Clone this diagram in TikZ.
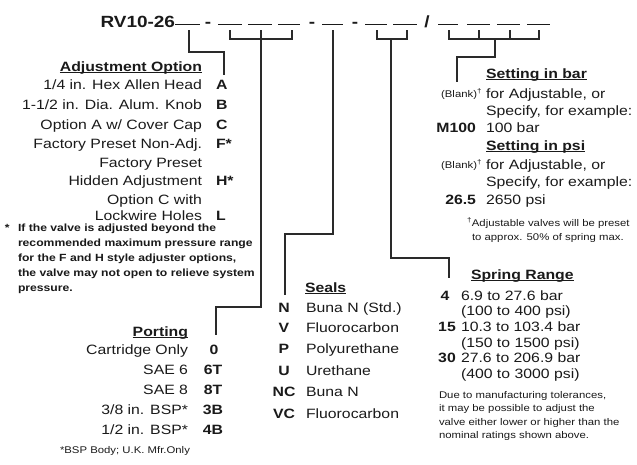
\documentclass[tikz,border=0pt]{standalone}
\usepackage{fontspec}
\setmainfont{Liberation Sans}[FakeStretch=1.17]
\definecolor{ink}{HTML}{1A1A1A}
\definecolor{wire}{HTML}{2A2A2A}
\newcommand\ulx[1]{\setbox0\hbox{#1}\rlap{\rule[-1.9pt]{\wd0}{0.95pt}}\box0}
\tikzset{
 txt/.style={inner sep=0pt, outer sep=0pt, text=ink, font=\fontsize{13.5}{16}\selectfont},
 code/.style={txt, font=\fontsize{13.5}{16}\selectfont\bfseries},
 head/.style={txt, font=\fontsize{13.5}{16}\selectfont\bfseries},
 titlef/.style={txt, font=\fontsize{16.2}{18}\selectfont\bfseries},
 small/.style={txt, font=\fontsize{9.7}{12}\selectfont},
 fnote/.style={txt, font=\fontsize{10.4}{12}\selectfont\bfseries},
 wirec/.style={draw=wire, line width=1.2pt, line join=miter},
 blank/.style={draw=ink, line width=1pt},
}
\begin{document}
\begin{tikzpicture}[x=1pt, y=-1pt]
\fill[white] (0,0) rectangle (637,464);
\useasboundingbox (0,0) rectangle (637,464);

% ---- model code line ----
\node[titlef, anchor=base east] (title) at (175,27) {RV10-26};
\node[titlef, anchor=base] (d1) at (208,27) {-};
\node[titlef, anchor=base] (d2) at (312,27) {-};
\node[titlef, anchor=base] (d3) at (355,27) {-};
\node[titlef, anchor=base] (sl) at (427,27) {/};
\draw[blank] (175,24) -- (200,24);
\draw[blank] (218,24) -- (242,24);
\draw[blank] (248,24) -- (272,24);
\draw[blank] (278,24) -- (300,24);
\draw[blank] (322,24) -- (343,24);
\draw[blank] (365,24) -- (387,24);
\draw[blank] (393,24) -- (417,24);
\draw[blank] (438,24) -- (458,24);
\draw[blank] (467,24) -- (490,24);
\draw[blank] (497,24) -- (520,24);
\draw[blank] (527,24) -- (550,24);

% ---- connector coordinates ----
\coordinate (a1) at (189,30);
\coordinate (adjEnd) at (224,75);
\coordinate (p1) at (230,30); \coordinate (p2) at (261,30); \coordinate (p3) at (292,30);
\coordinate (pm) at (261,39);
\coordinate (portEnd) at (216,335);
\coordinate (s1) at (333,30);
\coordinate (sealEnd) at (285,295);
\coordinate (r1) at (377,30); \coordinate (r2) at (407,30);
\coordinate (rm) at (391,39);
\coordinate (springEnd) at (449,278);
\coordinate (g1) at (449,30); \coordinate (g2) at (479,30);
\coordinate (g3) at (510,30); \coordinate (g4) at (539,30);
\coordinate (gm) at (495,39);
\coordinate (setEnd) at (457,82);

% adjustment
\draw[wirec] (a1) -- (189,52) -| (adjEnd);
% porting
\draw[wirec] (p1) |- (pm) -| (p3);
\draw[wirec] (p2) -- (pm) -- (261,307) -| (portEnd);
% seals
\draw[wirec] (s1) -- (333,234) -| (sealEnd);
% spring
\draw[wirec] (r1) |- (rm) -| (r2);
\draw[wirec] (rm) -- (391,258) -| (springEnd);
% setting
\draw[wirec] (g1) |- (gm) -| (g4);
\draw[wirec] (g2) -- (479,39);
\draw[wirec] (g3) -- (510,39);
\draw[wirec] (gm) -- (495,57) -| (setEnd);

% ---- Adjustment Option ----
\node[head, anchor=base east] (adjT) at (202,71) {\ulx{Adjustment Option}};
\node[txt, anchor=base east] (adj1) at (202,89) {1/4 in. Hex Allen Head};
\node[txt, anchor=base east] (adj2) at (202,109) {1-1/2 in. Dia. Alum. Knob};
\node[txt, anchor=base east] (adj3) at (202,129) {Option A w/ Cover Cap};
\node[txt, anchor=base east] (adj4) at (202,148) {Factory Preset Non-Adj.};
\node[txt, anchor=base east] (adj5a) at (202,167) {Factory Preset};
\node[txt, anchor=base east] (adj5b) at (202,185) {Hidden Adjustment};
\node[txt, anchor=base east] (adj6a) at (202,204) {Option C with};
\node[txt, anchor=base east] (adj6b) at (202,220) {Lockwire Holes};
\node[code, anchor=base west] (cA) at (216,89) {A};
\node[code, anchor=base west] (cB) at (216,109) {B};
\node[code, anchor=base west] (cC) at (216,129) {C};
\node[code, anchor=base west] (cF) at (216,148) {F*};
\node[code, anchor=base west] (cH) at (216,185) {H*};
\node[code, anchor=base west] (cL) at (216,220) {L};

\node[fnote, anchor=base west] (fnS) at (5,231) {*};
\node[fnote, anchor=base west] (fn1) at (18,231) {If the valve is adjusted beyond the};
\node[fnote, anchor=base west] (fn2) at (18,246) {recommended maximum pressure range};
\node[fnote, anchor=base west] (fn3) at (18,261) {for the F and H style adjuster options,};
\node[fnote, anchor=base west] (fn4) at (18,276) {the valve may not open to relieve system};
\node[fnote, anchor=base west] (fn5) at (18,291) {pressure.};

% ---- Porting ----
\node[head, anchor=base east] (portT) at (188,336) {\ulx{Porting}};
\node[txt, anchor=base east] (po1) at (188,354) {Cartridge Only};
\node[txt, anchor=base east] (po2) at (188,374) {SAE 6};
\node[txt, anchor=base east] (po3) at (188,394) {SAE 8};
\node[txt, anchor=base east] (po4) at (188,414) {3/8 in. BSP*};
\node[txt, anchor=base east] (po5) at (188,434) {1/2 in. BSP*};
\node[code, anchor=base] (pc1) at (214,354) {0};
\node[code, anchor=base] (pc2) at (213,374) {6T};
\node[code, anchor=base] (pc3) at (213,394) {8T};
\node[code, anchor=base] (pc4) at (213,414) {3B};
\node[code, anchor=base] (pc5) at (213,434) {4B};
\node[small, anchor=base west] (portN) at (60,453) {*BSP Body; U.K. Mfr.Only};

% ---- Seals ----
\node[head, anchor=base west] (sealT) at (305,292) {\ulx{Seals}};
\node[code, anchor=base] (sc1) at (284,312) {N};
\node[code, anchor=base] (sc2) at (284,332) {V};
\node[code, anchor=base] (sc3) at (284,353) {P};
\node[code, anchor=base] (sc4) at (284,375) {U};
\node[code, anchor=base] (sc5) at (284,396) {NC};
\node[code, anchor=base] (sc6) at (284,418) {VC};
\node[txt, anchor=base west] (sd1) at (306,312) {Buna N (Std.)};
\node[txt, anchor=base west] (sd2) at (306,332) {Fluorocarbon};
\node[txt, anchor=base west] (sd3) at (306,353) {Polyurethane};
\node[txt, anchor=base west] (sd4) at (306,375) {Urethane};
\node[txt, anchor=base west] (sd5) at (306,396) {Buna N};
\node[txt, anchor=base west] (sd6) at (306,418) {Fluorocarbon};

% ---- Settings ----
\node[head, anchor=base west] (barT) at (486,78) {\ulx{Setting in bar}};
\node[small, anchor=base east] (bl1) at (482,97) {(Blank)\textsuperscript{†}};
\node[txt, anchor=base west] (bd1) at (486,98) {for Adjustable, or};
\node[txt, anchor=base west] (bd2) at (486,115) {Specify, for example:};
\node[code, anchor=base east] (bM) at (476,132) {M100};
\node[txt, anchor=base west] (bd3) at (486,132) {100 bar};
\node[head, anchor=base west] (psiT) at (486,150) {\ulx{Setting in psi}};
\node[small, anchor=base east] (bl2) at (482,168) {(Blank)\textsuperscript{†}};
\node[txt, anchor=base west] (pd1) at (486,169) {for Adjustable, or};
\node[txt, anchor=base west] (pd2) at (486,186) {Specify, for example:};
\node[code, anchor=base east] (pM) at (476,204) {26.5};
\node[txt, anchor=base west] (pd3) at (486,204) {2650 psi};
\node[small, anchor=base west] (setN1) at (467,226) {\textsuperscript{†}Adjustable valves will be preset};
\node[small, anchor=base west] (setN2) at (472,240) {to approx. 50\% of spring max.};

% ---- Spring Range ----
\node[head, anchor=base west] (sprT) at (471,279) {\ulx{Spring Range}};
\node[code, anchor=base] (rc1) at (445,300) {4};
\node[code, anchor=base] (rc2) at (447,331) {15};
\node[code, anchor=base] (rc3) at (447,362) {30};
\node[txt, anchor=base west] (rd1) at (461,300) {6.9 to 27.6 bar};
\node[txt, anchor=base west] (rd2) at (461,315) {(100 to 400 psi)};
\node[txt, anchor=base west] (rd3) at (461,331) {10.3 to 103.4 bar};
\node[txt, anchor=base west] (rd4) at (461,347) {(150 to 1500 psi)};
\node[txt, anchor=base west] (rd5) at (461,362) {27.6 to 206.9 bar};
\node[txt, anchor=base west] (rd6) at (461,378) {(400 to 3000 psi)};
\node[small, anchor=base west] (rn1) at (439,398) {Due to manufacturing tolerances,};
\node[small, anchor=base west] (rn2) at (439,411) {it may be possible to adjust the};
\node[small, anchor=base west] (rn3) at (439,425) {valve either lower or higher than the};
\node[small, anchor=base west] (rn4) at (439,438) {nominal ratings shown above.};
\end{tikzpicture}
\end{document}
